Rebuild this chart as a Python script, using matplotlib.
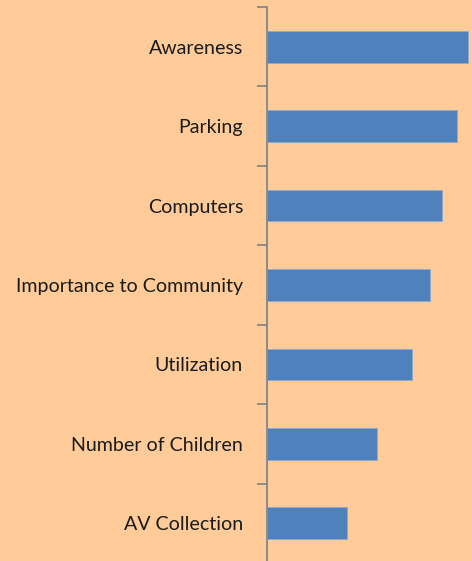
import numpy as np
import matplotlib.pyplot as plt

categories = ["AV Collection", "Number of Children", "Utilization",
              "Importance to Community", "Computers", "Parking", "Awareness"]
values = [80, 110, 145, 163, 175, 190, 201]

bg = "#FFCC99"
fig = plt.figure(figsize=(4.72, 5.61), dpi=100, facecolor=bg)
ax = fig.add_axes([266.7 / 472, (561 - 563) / 561, 1 - 266.7 / 472, 556 / 561])
ax.set_facecolor(bg)

y = np.arange(len(categories))
ax.barh(y, values, height=0.4, color="#4F81BD", edgecolor="#8EA9CF", linewidth=0.6)

ax.set_xlim(0, 205.3)
ax.set_ylim(-0.5, len(categories) - 0.5)
ax.set_yticks(y)
ax.set_yticklabels(categories, fontsize=14.1, family="Lato", color="#1a1a1a")
ax.set_yticks(np.arange(-0.5, len(categories)), minor=True)
ax.tick_params(axis="y", which="major", length=0, pad=17)
ax.tick_params(axis="y", which="minor", length=7, width=1.3, color="#868686")
ax.set_xticks([])

for s in ["top", "right", "bottom"]:
    ax.spines[s].set_visible(False)
ax.spines["left"].set_color("#868686")
ax.spines["left"].set_linewidth(1.3)

fig.savefig("out.png", dpi=100, facecolor=bg)
